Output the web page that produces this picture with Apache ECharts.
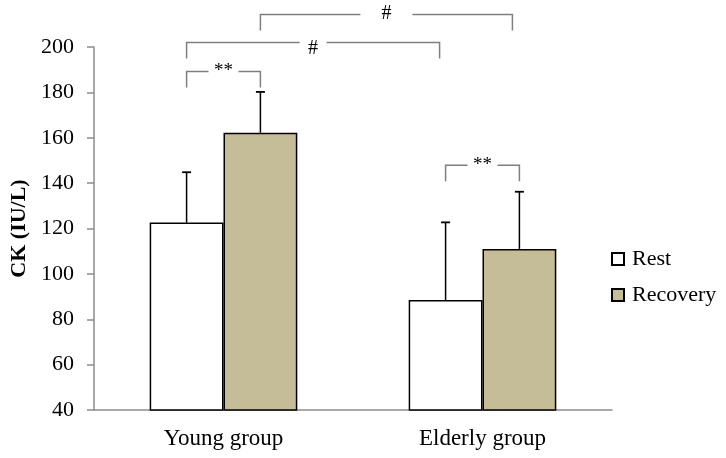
<!DOCTYPE html>
<html>
<head>
<meta charset="utf-8">
<script src="https://cdn.jsdelivr.net/npm/echarts@6/dist/echarts.min.js"></script>
<style>html,body{margin:0;padding:0;background:#fff}#c{width:726px;height:458px}</style>
</head>
<body>
<div id="c"></div>
<script>
// ---- data ----
const categories = ['Young group', 'Elderly group'];
const seriesNames = ['Rest', 'Recovery'];
const restValues = [122.6, 88.5];
const recoveryValues = [162.2, 111.0];
const restErrors = [22.2, 34.2];
const recoveryErrors = [18.0, 25.2];
const yAxisName = 'CK (IU/L)';
const yMin = 40, yMax = 200, yInterval = 20;
// brackets: [fromGroup, fromSeries, toGroup, toSeries, level, label]
const bracketFromGroup = [0, 0, 0, 1];
const bracketFromSeries = [0, 0, 1, 0];
const bracketToGroup = [0, 1, 1, 1];
const bracketToSeries = [1, 0, 1, 1];
const bracketLevels = [189.2, 202.0, 214.3, 147.9];
const bracketLabels = ['**', '#', '#', '**'];

// ---- styles ----
const FONT = '"Liberation Serif", "Times New Roman", serif';
const BAR_RATIO = 0.285;
const bracketGaps = [30, 27, 52, 30];
const bracketTextDy = [0, 6, -1, 0];
const bracketEndInset = [0, 6, 7, 0];
const LEG = 16;
const colors = ['#ffffff', '#C4BD97'];

const chart = echarts.init(document.getElementById('c'), null, {renderer: 'canvas'});

function slotX(api, group, s) {
  const c = api.coord([group, yMin])[0];
  const band = api.size([1, 0])[0];
  const half = band * BAR_RATIO / 2;
  return s === 0 ? c - half : c + half;
}

const errData = [];
for (let g = 0; g < categories.length; g++) {
  errData.push([g, restValues[g], restErrors[g], 0]);
  errData.push([g, recoveryValues[g], recoveryErrors[g], 1]);
}
const brData = bracketLevels.map((lv, i) => [bracketFromGroup[i], lv, i]);

const option = {
  animation: false,
  grid: {left: 93, right: 114, top: 47, bottom: 48},
  legend: {
    orient: 'vertical', left: 606, top: 243, itemGap: 14,
    itemWidth: 12, itemHeight: 12, icon: 'rect',
    data: seriesNames,
    textStyle: {fontFamily: FONT, fontSize: 22, color: '#000', padding: [0, 0, 0, 3]}
  },
  xAxis: {
    type: 'category', data: categories,
    axisLine: {lineStyle: {color: '#8c8c8c', width: 1.5}},
    axisTick: {show: false},
    axisLabel: {fontFamily: FONT, fontSize: 23, color: '#000', margin: 17}
  },
  yAxis: {
    type: 'value', min: yMin, max: yMax, interval: yInterval,
    name: yAxisName, nameLocation: 'middle', nameGap: 64,
    nameTextStyle: {fontFamily: FONT, fontSize: 22, fontWeight: 'bold', color: '#000'},
    axisLine: {show: true, lineStyle: {color: '#8c8c8c', width: 1.5}},
    axisTick: {show: true, length: 7, lineStyle: {color: '#8c8c8c', width: 1.5}},
    splitLine: {show: false},
    axisLabel: {fontFamily: FONT, fontSize: 22, color: '#000', margin: 20}
  },
  series: [
    {name: seriesNames[0], type: 'bar', data: restValues, barWidth: (BAR_RATIO * 100) + '%', barGap: '0%',
     itemStyle: {color: colors[0], borderColor: '#000', borderWidth: 1.5}},
    {name: seriesNames[1], type: 'bar', data: recoveryValues, barWidth: (BAR_RATIO * 100) + '%', barGap: '0%',
     itemStyle: {color: colors[1], borderColor: '#000', borderWidth: 1.5}},
    {
      type: 'custom', data: errData, encode: {x: 0, y: 1}, z: 5, silent: true,
      renderItem: function (params, api) {
        const g = api.value(0), v = api.value(1), e = api.value(2), s = api.value(3);
        const x = slotX(api, g, s);
        const y0 = api.coord([g, v])[1];
        const y1 = api.coord([g, v + e])[1];
        return {type: 'group', children: [
          {type: 'line', shape: {x1: x, y1: y0, x2: x, y2: y1}, style: {stroke: '#000', lineWidth: 1.5}},
          {type: 'line', shape: {x1: x - 4.5, y1: y1, x2: x + 4.5, y2: y1}, style: {stroke: '#000', lineWidth: 1.8}}
        ]};
      }
    },
    {
      type: 'custom', data: brData, encode: {x: 0, y: 1}, z: 5, silent: true, clip: false,
      renderItem: function (params, api) {
        const i = api.value(2);
        const xa = slotX(api, bracketFromGroup[i], bracketFromSeries[i]);
        const xb = slotX(api, bracketToGroup[i], bracketToSeries[i]) - bracketEndInset[i];
        const y = api.coord([0, bracketLevels[i]])[1];
        const mid = (xa + xb) / 2, gh = bracketGaps[i] / 2;
        const st = {stroke: '#7f7f7f', lineWidth: 1.5, fill: null};
        return {type: 'group', children: [
          {type: 'polyline', shape: {points: [[xa, y + LEG], [xa, y], [mid - gh, y]]}, style: st},
          {type: 'polyline', shape: {points: [[mid + gh, y], [xb, y], [xb, y + LEG]]}, style: st},
          {type: 'text', x: mid, y: y + bracketTextDy[i], style: {
            text: bracketLabels[i], textAlign: 'center', textVerticalAlign: 'middle',
            font: (bracketLabels[i] === '#' ? '20px ' : '19px ') + FONT, fill: '#000'}}
        ]};
      }
    }
  ]
};
chart.setOption(option);
</script>
</body>
</html>
